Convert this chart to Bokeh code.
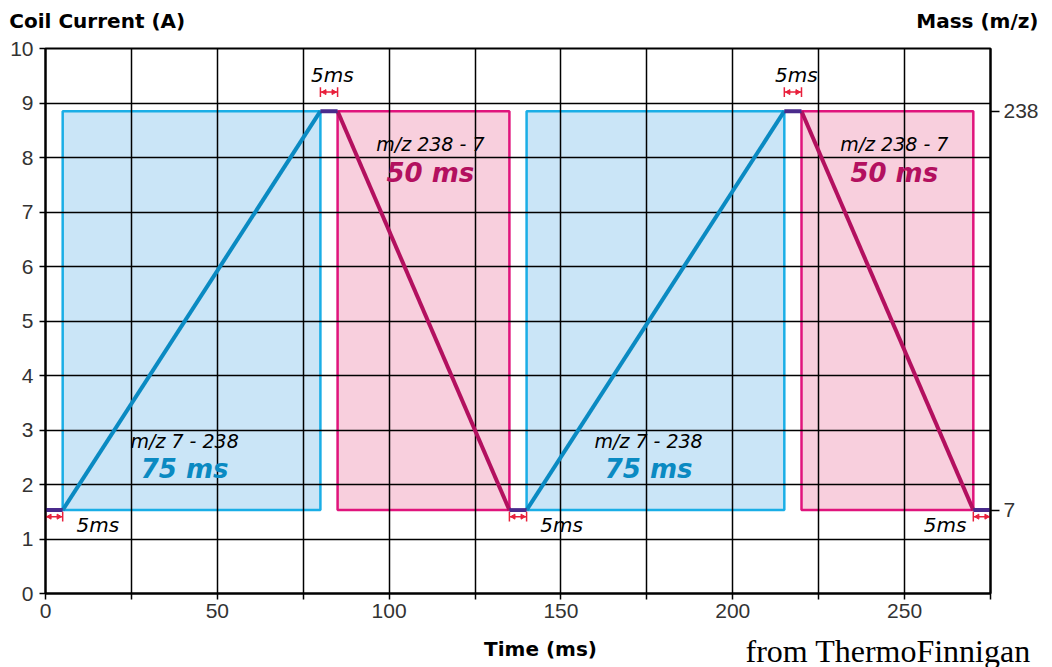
from bokeh.plotting import figure
from bokeh.models import (ColumnDataSource, LinearAxis, FixedTicker, Range1d, Label)
from bokeh.core.properties import value
from bokeh.embed import file_html
from bokeh.resources import INLINE

# ---------------- data ----------------
# scan program: time (ms) and coil current (A)
times = [0, 5, 80, 85, 135, 140, 215, 220, 270, 275]
current = [1.53, 1.53, 8.85, 8.85, 1.53, 1.53, 8.85, 8.85, 1.53, 1.53]
mass_ticks = [7, 238]
mass_current = [1.53, 8.85]
y_ticks = list(range(0, 11))
x_ticks = [0, 50, 100, 150, 200, 250]
x_minor = [25, 75, 125, 175, 225, 275]
scan_names_up = ["m/z 7 - 238", "m/z 7 - 238"]
scan_names_down = ["m/z 238 - 7", "m/z 238 - 7"]
dur_up = ["75 ms", "75 ms"]
dur_down = ["50 ms", "50 ms"]
flat_label = "5ms"
left_title = "Coil Current (A)"
right_title = "Mass (m/z)"

# derived segments
flat_x0 = [times[0], times[2], times[4], times[6], times[8]]
flat_x1 = [times[1], times[3], times[5], times[7], times[9]]
flat_y = [current[0], current[2], current[4], current[6], current[8]]
up_x0 = [times[1], times[5]]
up_x1 = [times[2], times[6]]
down_x0 = [times[3], times[7]]
down_x1 = [times[4], times[8]]
lo, hi = min(current), max(current)

BLUE_FILL = "#cae5f7"
BLUE_EDGE = "#1aaee6"
BLUE_LINE = "#0a8ac2"
PINK_FILL = "#f8cfdd"
PINK_EDGE = "#e0147c"
PINK_LINE = "#b3105f"
PURPLE = "#4a2a8c"
RED = "#e8203c"
SANS = "Liberation Sans"
WIDE = "DejaVu Sans"

p = figure(width=1052, height=667, output_backend="svg", toolbar_location=None,
           x_range=Range1d(0, 275), y_range=Range1d(0, 10),
           min_border_left=45, min_border_right=62, min_border_top=47, min_border_bottom=74,
           background_fill_color="white", border_fill_color="white")
p.outline_line_color = "black"
p.outline_line_width = 2

# rectangles
rect_up = p.quad(left=up_x0, right=up_x1, bottom=lo, top=hi, fill_color=BLUE_FILL,
                 line_color=BLUE_EDGE, line_width=2.5)
rect_up.level = "image"
rect_dn = p.quad(left=down_x0, right=down_x1, bottom=lo, top=hi, fill_color=PINK_FILL,
                 line_color=PINK_EDGE, line_width=2.5)
rect_dn.level = "image"

# ramps
p.segment(x0=up_x0, x1=up_x1, y0=lo, y1=hi, line_color=BLUE_LINE, line_width=4)
p.segment(x0=down_x0, x1=down_x1, y0=hi, y1=lo, line_color=PINK_LINE, line_width=4)
p.segment(x0=flat_x0, x1=flat_x1, y0=flat_y, y1=flat_y, line_color=PURPLE, line_width=4)

# small red dimension arrows
arr_y = [(y - 0.12) if y == lo else (y + 0.35) for y in flat_y]
p.segment(x0=flat_x0, x1=flat_x1, y0=arr_y, y1=arr_y, line_color=RED, line_width=1.5)
p.segment(x0=flat_x0, x1=flat_x0, y0=[y - 0.09 for y in arr_y], y1=[y + 0.09 for y in arr_y],
          line_color=RED, line_width=1.5)
p.segment(x0=flat_x1, x1=flat_x1, y0=[y - 0.09 for y in arr_y], y1=[y + 0.09 for y in arr_y],
          line_color=RED, line_width=1.5)
p.scatter(x=[x + 1.2 for x in flat_x0], y=arr_y, marker="triangle", angle=1.5708,
          size=5, color=RED)
p.scatter(x=[x - 1.2 for x in flat_x1], y=arr_y, marker="triangle", angle=-1.5708,
          size=5, color=RED)

# texts
up_mid = [(a + b) / 2 - 2 for a, b in zip(up_x0, up_x1)]
dn_mid = [(a + b) / 2 + 2 for a, b in zip(down_x0, down_x1)]
p.text(x=up_mid, y=[2.8, 2.8], text=scan_names_up, text_font=value(WIDE),
       text_font_style="italic", text_font_size="19px", text_color="black",
       text_align="center", text_baseline="middle")
p.text(x=up_mid, y=[2.28, 2.28], text=dur_up, text_font=value(WIDE),
       text_font_style="bold italic", text_font_size="26px", text_color=BLUE_LINE,
       text_align="center", text_baseline="middle")
p.text(x=dn_mid, y=[8.24, 8.24], text=scan_names_down, text_font=value(WIDE),
       text_font_style="italic", text_font_size="19px", text_color="black",
       text_align="center", text_baseline="middle")
p.text(x=dn_mid, y=[7.72, 7.72], text=dur_down, text_font=value(WIDE),
       text_font_style="bold italic", text_font_size="26px", text_color=PINK_LINE,
       text_align="center", text_baseline="middle")

# "5ms" labels
top_x = [(a + b) / 2 + 1 for a, b, y in zip(flat_x0, flat_x1, flat_y) if y == hi]
p.text(x=top_x, y=[9.52] * len(top_x), text=[flat_label] * len(top_x), text_font=value(WIDE),
       text_font_style="italic", text_font_size="20px", text_color="black",
       text_align="center", text_baseline="middle")
bot_x = [flat_x1[0] + 4, flat_x1[2] + 4]
p.text(x=bot_x, y=[1.26] * 2, text=[flat_label] * 2, text_font=value(WIDE),
       text_font_style="italic", text_font_size="20px", text_color="black",
       text_align="left", text_baseline="middle")
p.text(x=[flat_x0[4] - 2], y=[1.26], text=[flat_label], text_font=value(WIDE),
       text_font_style="italic", text_font_size="20px", text_color="black",
       text_align="right", text_baseline="middle")

# grid
p.xgrid.ticker = FixedTicker(ticks=x_ticks, minor_ticks=x_minor)
p.ygrid.ticker = FixedTicker(ticks=y_ticks)
for g in (p.xgrid, p.ygrid):
    g.grid_line_color = "black"
    g.grid_line_width = 1.5
    g.grid_line_alpha = 1
p.xgrid.minor_grid_line_color = "black"
p.xgrid.minor_grid_line_width = 1.5

# axes
xa = p.xaxis[0]
xa.ticker = FixedTicker(ticks=x_ticks, minor_ticks=x_minor)
ya = p.yaxis[0]
ya.ticker = FixedTicker(ticks=y_ticks)
for ax in (xa, ya):
    ax.axis_line_color = "black"
    ax.axis_line_width = 2
    ax.major_tick_line_color = "black"
    ax.major_tick_line_width = 1.5
    ax.major_tick_in = 0
    ax.major_tick_out = 6
    ax.minor_tick_line_color = "black"
    ax.minor_tick_line_width = 1.5
    ax.minor_tick_in = 0
    ax.minor_tick_out = 6
    ax.major_label_text_font = SANS
    ax.major_label_text_font_size = "21px"
    ax.major_label_text_color = "#333333"
xa.major_label_standoff = 4
ya.major_label_standoff = 6

ra = LinearAxis(ticker=FixedTicker(ticks=mass_current),
                major_label_overrides={c: str(m) for c, m in zip(mass_current, mass_ticks)})
ra.axis_line_color = "black"
ra.axis_line_width = 2
ra.major_tick_line_color = "black"
ra.major_tick_line_width = 1.5
ra.major_tick_in = 0
ra.major_tick_out = 9
ra.minor_tick_line_color = None
ra.major_label_text_font = SANS
ra.major_label_text_font_size = "21px"
ra.major_label_text_color = "#333333"
ra.major_label_standoff = 4
p.add_layout(ra, "right")


# outer texts (canvas coordinates, placed in side panels so they are not clipped)
def outer(text, x, y, font, size, style, align, side):
    p.add_layout(Label(x=x, y=y, x_units="canvas", y_units="canvas", text=text,
                       text_font=font, text_font_style=style, text_font_size=size,
                       text_color="black", text_align=align, text_baseline="middle"),
                 side)


# both axis titles share one row above the frame
outer(left_title + "\u00a0" * 105 + right_title, 1038, 20, WIDE, "20px", "bold", "right", "above")
outer("Time (ms)", 540, 648, WIDE, "20px", "bold", "center", "above")
outer("from ThermoFinnigan", 745, 650, "Liberation Serif", "32px", "normal", "left", "below")

open("out.html", "w").write(file_html(p, INLINE))
